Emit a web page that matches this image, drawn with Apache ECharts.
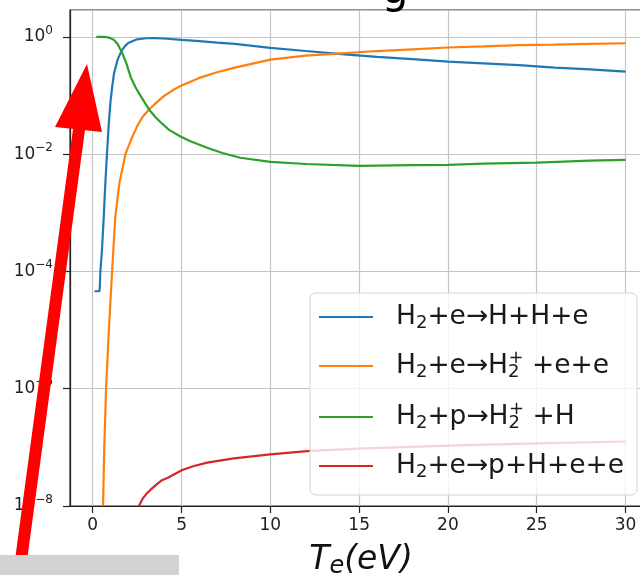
<!DOCTYPE html>
<html>
<head>
<meta charset="utf-8">
<script src="https://cdn.jsdelivr.net/npm/echarts@6/dist/echarts.min.js"></script>
<style>
html,body{margin:0;padding:0;background:#fff;}
#main{width:640px;height:575px;}
</style>
</head>
<body>
<div id="main"></div>
<script>
// H2+e -> H+H+e
var xDiss=[0.1,0.38,0.4,0.43,0.52,0.62,0.71,0.8,0.9,1.0,1.1,1.2,1.4,1.6,1.8,2.0,2.5,3.0,3.5,4,5,6,7,8,10,12,14,16,18,20,22,24,26,28,30];
var yDiss=[4.6e-5,4.6e-5,5.6e-5,1.0e-4,2.3e-4,8.5e-4,3.2e-3,1.0e-2,3.2e-2,7.9e-2,0.145,0.24,0.41,0.56,0.69,0.79,0.91,0.95,0.955,0.94,0.89,0.85,0.80,0.76,0.65,0.575,0.51,0.457,0.417,0.38,0.355,0.33,0.30,0.28,0.257];
// H2+e -> H2+ +e+e
var xIon=[0.58,0.65,0.75,0.86,0.9,0.96,1.09,1.27,1.5,1.84,2.2,2.5,2.8,3.17,3.5,4,4.5,5,6,7,8,10,12,14,16,18,20,22,24,26,28,30];
var yIon=[1e-8,1e-7,1e-6,5.0e-6,8.9e-6,1.9e-5,1.0e-4,8.5e-4,3.2e-3,1.0e-2,1.9e-2,3.0e-2,4.3e-2,5.8e-2,7.2e-2,9.8e-2,0.123,0.148,0.20,0.25,0.30,0.41,0.48,0.525,0.575,0.615,0.66,0.69,0.725,0.74,0.76,0.78];
// H2+p -> H2+ +H
var xCx=[0.2,0.5,0.8,1.0,1.2,1.4,1.67,1.9,2.13,2.4,2.7,3.17,3.5,3.82,4.3,4.94,5.5,6.44,7.3,8.31,10,12,15,18,20,22,25,28,30];
var yCx=[1.0,1.0,0.99,0.955,0.89,0.76,0.525,0.35,0.21,0.14,0.098,0.058,0.044,0.035,0.026,0.020,0.0166,0.0129,0.0105,0.0087,0.0074,0.0068,0.0063,0.0065,0.0066,0.0069,0.0072,0.0078,0.008];
// H2+e -> p+H+e+e
var xDissIon=[2.6,2.8,3.0,3.26,3.6,3.9,4.2,5.04,5.7,6.44,7.94,10,12.25,15,20,25,30];
var yDissIon=[1.0e-8,1.32e-8,1.58e-8,1.9e-8,2.34e-8,2.75e-8,3.0e-8,4.1e-8,4.8e-8,5.5e-8,6.5e-8,7.6e-8,8.7e-8,9.5e-8,1.07e-7,1.17e-7,1.26e-7];

var seriesNames=['H2+e→H+H+e','H2+e→H2+ +e+e','H2+p→H2+ +H','H2+e→p+H+e+e'];
var legendLabels=[
    '{n|H}{sub|2}{n|+e→H+H+e}',
    '{n|H}{sub|2}{n|+e→H}{sub|2}{sup|+}{n| +e+e}',
    '{n|H}{sub|2}{n|+p→H}{sub|2}{sup|+}{n| +H}',
    '{n|H}{sub|2}{n|+e→p+H+e+e}'
];
var colors=['#1f77b4','#ff7f0e','#2ca02c','#d62728'];

var FONT='DejaVu Sans';

function pairs(xs,ys){
    var out=[];
    for(var i=0;i<xs.length;i++){
        out.push([xs[i],ys[i]]);
    }
    return out;
}

function supLabel(v){
    var e=Math.round(Math.log(v)/Math.LN10);
    var s=e===0?'0':'\u2212'+(-e);
    return '{b|10}{s|'+s+'}';
}

var allX=[xDiss,xIon,xCx,xDissIon];
var allY=[yDiss,yIon,yCx,yDissIon];
var series=[];
for(var k=0;k<4;k++){
    series.push({
        name:seriesNames[k],
        type:'line',
        data:pairs(allX[k],allY[k]),
        symbol:'none',
        smooth:false,
        clip:true,
        lineStyle:{color:colors[k],width:2.2},
        itemStyle:{color:colors[k]}
    });
}

var myChart=echarts.init(document.getElementById('main'),null,{renderer:'canvas'});
var option={
    animation:false,
    backgroundColor:'#fff',
    textStyle:{fontFamily:FONT},
    grid:{left:70,top:10,width:582,height:496,outerBoundsMode:'none',containLabel:false,show:true,borderColor:'#222',borderWidth:1.2,backgroundColor:'transparent'},
    xAxis:{
        type:'value',
        min:-1.28,
        max:31.49,
        splitNumber:6,
        axisLine:{show:true,onZero:false,lineStyle:{color:'#222',width:1.2}},
        axisTick:{show:true,inside:false,length:7,lineStyle:{color:'#222',width:1.2}},
        axisLabel:{show:true,margin:11,fontSize:17,color:'#222',fontFamily:FONT,showMinLabel:false,showMaxLabel:false},
        splitLine:{show:true,lineStyle:{color:'#c4c4c4',width:1.2}},
        name:'{i|T}{e|e}{i|(eV)}',
        nameLocation:'middle',
        nameGap:35,
        nameTextStyle:{
            rich:{
                i:{fontSize:33,fontStyle:'italic',fontFamily:FONT,color:'#111'},
                e:{fontSize:24,fontStyle:'italic',fontFamily:FONT,color:'#111',padding:[14,0,0,0]}
            }
        }
    },
    yAxis:{
        type:'log',
        logBase:10,
        min:1e-8,
        max:2.88,
        interval:2,
        axisLine:{show:true,onZero:false,lineStyle:{color:'#222',width:1.2}},
        axisTick:{show:true,inside:false,length:7,lineStyle:{color:'#222',width:1.2}},
        minorTick:{show:false},
        axisLabel:{
            show:true,margin:17,showMaxLabel:false,
            formatter:function(v){return supLabel(v);},
            rich:{
                b:{fontSize:17,color:'#222',fontFamily:FONT},
                s:{fontSize:12,color:'#222',fontFamily:FONT,padding:[0,0,13,0]}
            }
        },
        splitLine:{show:true,lineStyle:{color:'#c4c4c4',width:1.2}}
    },
    legend:{
        orient:'vertical',
        left:310,
        top:293,
        itemWidth:54,
        itemHeight:14,
        itemGap:17,
        padding:[9,13,14,8],
        backgroundColor:'rgba(255,255,255,0.8)',
        borderColor:'#d4d4d4',
        borderWidth:1,
        borderRadius:6,
        itemStyle:{opacity:0},
        data:seriesNames,
        formatter:function(name){
            return legendLabels[seriesNames.indexOf(name)];
        },
        textStyle:{
            padding:[0,0,0,18],
            rich:{
                n:{fontSize:26.5,fontFamily:FONT,color:'#1a1a1a',lineHeight:32},
                sub:{fontSize:18,fontFamily:FONT,color:'#1a1a1a',lineHeight:32,padding:[12,0,0,0]},
                sup:{fontSize:18,fontFamily:FONT,color:'#1a1a1a',lineHeight:32,padding:[0,0,16,-11]}
            }
        }
    },
    graphic:[
        {type:'text',z:50,style:{text:'g',x:395,y:-8,fontSize:42,fontFamily:FONT,fill:'#000',align:'center',verticalAlign:'middle'}},
        {type:'line',z:100,shape:{x1:17,y1:590,x2:80,y2:122},style:{stroke:'#ff0000',lineWidth:12}},
        {type:'polygon',z:101,shape:{points:[[87,64],[55,127],[102,132]]},style:{fill:'#ff0000'}},
        {type:'rect',z:102,shape:{x:0,y:555,width:179,height:20},style:{fill:'#d3d3d3'}}
    ],
    series:series
};
myChart.setOption(option);
</script>
</body>
</html>
